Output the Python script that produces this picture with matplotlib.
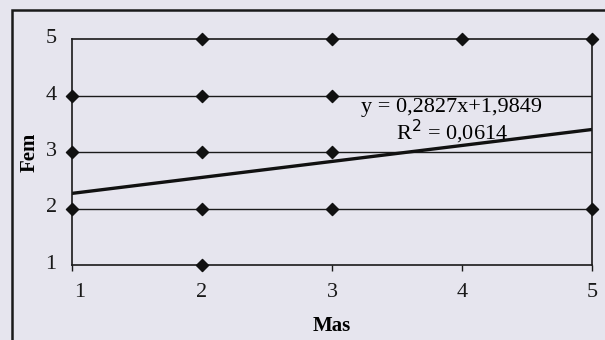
import matplotlib
matplotlib.use('Agg')
import matplotlib.pyplot as plt
import matplotlib.transforms as mtransforms
from matplotlib.patches import Rectangle
import numpy as np

# Mas / Fem pairs
mas = [1, 1, 1, 2, 2, 2, 2, 2, 3, 3, 3, 3, 4, 5, 5]
fem = [4, 3, 2, 5, 4, 3, 2, 1, 5, 4, 3, 2, 5, 5, 2]
ticks = [1, 2, 3, 4, 5]

# linear trendline
slope = 0.2827
intercept = 1.9849
r2 = 0.0614

bg = '#e6e5ee'
plt.rcParams['font.family'] = ['Liberation Serif', 'DejaVu Serif']

fig = plt.figure(figsize=(6.05, 3.4), dpi=100)
fig.patch.set_facecolor(bg)

# outer frame
fig.patches.append(Rectangle((12 / 605, -0.1), 1.2, 1 - 10 / 340 + 0.1,
                             transform=fig.transFigure, fill=False,
                             edgecolor='#1a1a1a', lw=1.8))

ax = fig.add_axes([72 / 605, 1 - 265 / 340, 520 / 605, 226 / 340])
ax.set_facecolor('none')
ax.set_xlim(1, 5)
ax.set_ylim(1, 5)

for v in ticks[1:-1]:
    ax.axhline(v, color='#1a1a1a', lw=1.0, zorder=1)

xs = np.array([1, 5])
ax.plot(xs, slope * xs + intercept, color='#111111', lw=2.4, zorder=2)

ax.scatter(mas, fem, marker='D', s=38, color='#111111', zorder=3, clip_on=False)

for s in ax.spines.values():
    s.set_color('#1a1a1a')
    s.set_linewidth(1.2)

ax.set_xticks(ticks)
ax.set_yticks(ticks)
ax.tick_params(axis='x', length=4, width=1, direction='out', pad=9,
               labelsize=16, colors='#1a1a1a')
ax.tick_params(axis='y', length=0, pad=11, labelsize=16, colors='#1a1a1a')

# nudge the tick labels the way the original layout has them
lbl = ax.get_xticklabels()[0]
lbl.set_transform(lbl.get_transform() +
                  mtransforms.ScaledTranslation(8 / 100, 0, fig.dpi_scale_trans))
for lbl in ax.get_yticklabels():
    lbl.set_transform(lbl.get_transform() +
                      mtransforms.ScaledTranslation(0, 3 / 100, fig.dpi_scale_trans))

ax.set_xlabel('Mas', fontsize=15, fontweight='bold', labelpad=10)
ax.set_ylabel('Fem', fontsize=15, fontweight='bold', labelpad=4)

ax.text(3.92, 3.78, f'y = {slope:.4f}x+{intercept:.4f}'.replace('.', ','),
        ha='center', va='center', fontsize=16)
ax.text(3.92, 3.36, f'R$^2$ = {r2:.4f}'.replace('.', ','),
        ha='center', va='center', fontsize=16)

fig.savefig('out.png', dpi=100, facecolor=bg)
